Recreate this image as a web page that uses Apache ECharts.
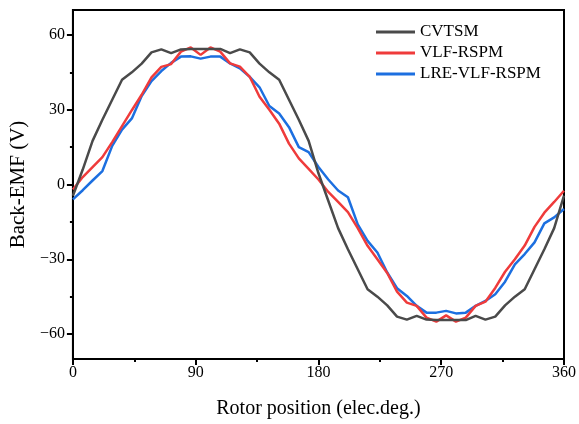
<!DOCTYPE html>
<html><head><meta charset="utf-8">
<script src="https://cdn.jsdelivr.net/npm/echarts@6/dist/echarts.min.js"></script>
<style>html,body{margin:0;padding:0;background:#fff}#c{width:579px;height:424px}</style>
</head><body><div id="c"></div>
<script>
const angles = [0, 7.2, 14.4, 21.6, 28.8, 36, 43.2, 50.4, 57.6, 64.8, 72, 79.2, 86.4, 93.6, 100.8, 108, 115.2, 122.4, 129.6, 136.8, 144, 151.2, 158.4, 165.6, 172.8, 180, 187.2, 194.4, 201.6, 208.8, 216, 223.2, 230.4, 237.6, 244.8, 252, 259.2, 266.4, 273.6, 280.8, 288, 295.2, 302.4, 309.6, 316.8, 324, 331.2, 338.4, 345.6, 352.8, 360];
const cvtsm = [-4.5, 6, 17.5, 26, 34, 42, 45, 48.5, 53, 54.2, 52.7, 54.2, 54.4, 54.4, 54.4, 54.4, 52.7, 54.2, 53, 48.5, 45, 42, 34, 26, 17.5, 4.5, -6.5, -17.5, -26, -34, -42, -45, -48.5, -53, -54.2, -52.7, -54.2, -54.4, -54.4, -54.4, -54.4, -52.7, -54.2, -53, -48.5, -45, -42, -34, -26, -17.5, -4.5];
const vlf = [-2, 3, 7, 11, 17, 23.4, 29.8, 36, 43, 47.2, 48.3, 53.3, 55, 52, 55, 53.3, 48.6, 47.3, 43.2, 35.2, 30, 24.4, 16.4, 10.5, 6.3, 2, -3, -7, -11.1, -17.5, -24.6, -30, -35.5, -43, -47.4, -48.7, -53.4, -55, -52.5, -55, -53.4, -48.7, -47, -41.5, -35, -30, -24.5, -17, -11.3, -7, -2.5];
const lre = [-6, -2.3, 1.6, 5.4, 15.5, 22, 26.5, 35.5, 41.5, 45.5, 48.8, 51.3, 51.4, 50.5, 51.3, 51.3, 48.6, 46.6, 43.2, 39, 31.5, 28.5, 23, 15, 13, 7, 2, -2.4, -5.1, -16, -22.6, -27.3, -35.3, -41.6, -44.7, -48.7, -51.4, -51.4, -50.7, -51.7, -51.4, -48.7, -46.7, -44, -39, -32, -27.9, -23.2, -15.6, -13.2, -9.8];
const seriesNames = ['CVTSM', 'VLF-RSPM', 'LRE-VLF-RSPM'];
const yTicks = [-60, -30, 0, 30, 60];
const yMinorTicks = [-45, -15, 15, 45];
const xTicks = [0, 90, 180, 270, 360];

const FONT = 'Liberation Serif';
const colors = ['#4a4a4a', '#ef3b3b', '#1c6fe0'];
const pairs = v => angles.map((a, i) => [a, v[i]]);
const chart = echarts.init(document.getElementById('c'), null, {renderer: 'canvas'});
chart.setOption({
  animation: false,
  backgroundColor: '#fff',
  grid: {left: 70, right: 14, top: 10, bottom: 64, show: true, borderColor: '#000', borderWidth: 2, backgroundColor: 'transparent'},
  legend: {
    orient: 'vertical', left: 371, top: 18, itemWidth: 39, itemHeight: 3, itemGap: 3, icon: 'rect',
    data: seriesNames,
    textStyle: {fontFamily: FONT, fontSize: 17, color: '#000', lineHeight: 18}
  },
  xAxis: {
    type: 'value', min: xTicks[0], max: xTicks[xTicks.length - 1], interval: 90,
    name: 'Rotor position (elec.deg.)', nameLocation: 'middle', nameGap: 40,
    nameTextStyle: {fontFamily: FONT, fontSize: 20, color: '#000'},
    axisLine: {onZero: false, lineStyle: {color: '#000', width: 2}},
    axisTick: {length: 6, lineStyle: {color: '#000', width: 2}},
    minorTick: {show: true, splitNumber: 2, length: 3, lineStyle: {color: '#000', width: 2}},
    splitLine: {show: false}, minorSplitLine: {show: false},
    axisLabel: {fontFamily: FONT, fontSize: 16, color: '#000', margin: 6}
  },
  yAxis: [{
    type: 'value', min: -70, max: 70,
    name: 'Back-EMF (V)', nameLocation: 'middle', nameGap: 42,
    nameTextStyle: {fontFamily: FONT, fontSize: 21, color: '#000'},
    axisLine: {onZero: false, lineStyle: {color: '#000', width: 2}},
    axisTick: {length: 6, customValues: yTicks, lineStyle: {color: '#000', width: 2}},
    splitLine: {show: false},
    axisLabel: {fontFamily: FONT, fontSize: 16, color: '#000', margin: 8, customValues: yTicks,
      formatter: v => (v < 0 ? '\u2212' + Math.abs(v) : String(v))}
  }, {
    type: 'value', min: -70, max: 70, position: 'left',
    axisLine: {show: false},
    axisTick: {show: true, length: 3, customValues: yMinorTicks, lineStyle: {color: '#000', width: 2}},
    axisLabel: {show: false}, splitLine: {show: false}
  }],
  series: [cvtsm, vlf, lre].map((v, i) => ({
    name: seriesNames[i], type: 'line', data: pairs(v), yAxisIndex: 0,
    showSymbol: false, symbol: 'none', color: colors[i],
    lineStyle: {width: 2.5, color: colors[i]}, z: 3 - i
  }))
});
</script></body></html>
